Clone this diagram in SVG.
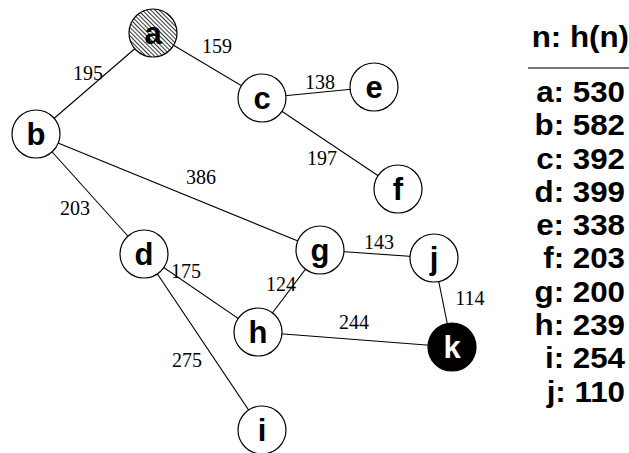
<svg xmlns="http://www.w3.org/2000/svg" width="629" height="453" viewBox="0 0 629 453">
<style>
.node circle{fill:#fff;stroke:#000;stroke-width:1.2}
.node text{font-family:"Liberation Sans",Arial,sans-serif;font-weight:bold;font-size:31px;text-anchor:middle;dominant-baseline:central;fill:#000}
#connectors line{stroke:#000;stroke-width:1.1}
.el{font-family:"Liberation Serif","Times New Roman",serif;font-size:20px;text-anchor:middle;dominant-baseline:central;fill:#000}
.tb{font-family:"Liberation Sans",Arial,sans-serif;font-weight:bold;font-size:29px;text-anchor:end;fill:#000}
</style>
<defs>
<pattern id="hatch" width="3" height="3" patternUnits="userSpaceOnUse" patternTransform="rotate(-45)">
<rect width="3" height="3" fill="#fff"/>
<line x1="0.5" y1="0" x2="0.5" y2="3" stroke="#000" stroke-width="0.8"/>
</pattern>
</defs>
<rect width="629" height="453" fill="#fff"/>
<g id="connectors">
<line x1="153" y1="33" x2="36" y2="134"/>
<line x1="153" y1="33" x2="262" y2="98"/>
<line x1="262" y1="98" x2="374" y2="87"/>
<line x1="262" y1="98" x2="398" y2="189"/>
<line x1="36" y1="134" x2="320" y2="250"/>
<line x1="36" y1="134" x2="144" y2="254"/>
<line x1="144" y1="254" x2="258" y2="332"/>
<line x1="144" y1="254" x2="262" y2="430"/>
<line x1="320" y1="250" x2="258" y2="332"/>
<line x1="320" y1="250" x2="434" y2="258"/>
<line x1="434" y1="258" x2="452" y2="347"/>
<line x1="258" y1="332" x2="452" y2="347"/>
<text class="el" x="217" y="46">159</text>
<text class="el" x="88" y="73">195</text>
<text class="el" x="320" y="82">138</text>
<text class="el" x="322" y="158">197</text>
<text class="el" x="201" y="177">386</text>
<text class="el" x="75" y="208">203</text>
<text class="el" x="379" y="242">143</text>
<text class="el" x="186" y="271">175</text>
<text class="el" x="281" y="284">124</text>
<text class="el" x="470" y="298">114</text>
<text class="el" x="354" y="322">244</text>
<text class="el" x="187" y="360">275</text>
</g>
<g id="node-a" class="node"><circle cx="153" cy="33" r="24" style="fill:url(#hatch)"/><text x="153" y="33">a</text></g>
<g id="node-b" class="node"><circle cx="36" cy="134" r="24"/><text x="36" y="134">b</text></g>
<g id="node-c" class="node"><circle cx="262" cy="98" r="24"/><text x="262" y="98">c</text></g>
<g id="node-e" class="node"><circle cx="374" cy="87" r="24"/><text x="374" y="87">e</text></g>
<g id="node-f" class="node"><circle cx="398" cy="189" r="24"/><text x="398" y="189">f</text></g>
<g id="node-d" class="node"><circle cx="144" cy="254" r="24"/><text x="144" y="254">d</text></g>
<g id="node-g" class="node"><circle cx="320" cy="250" r="24"/><text x="320" y="250">g</text></g>
<g id="node-j" class="node"><circle cx="434" cy="258" r="24"/><text x="434" y="258">j</text></g>
<g id="node-h" class="node"><circle cx="258" cy="332" r="24"/><text x="258" y="332">h</text></g>
<g id="node-k" class="node"><circle cx="452" cy="347" r="24" style="fill:#000"/><text x="452" y="347" style="fill:#fff">k</text></g>
<g id="node-i" class="node"><circle cx="262" cy="430" r="24"/><text x="262" y="430">i</text></g>
<g id="table">
<line x1="528" y1="68" x2="629" y2="68" stroke="#777" stroke-width="2"/>
<g transform="translate(629,0) scale(1.08,1)">
<text class="tb" x="0" y="47">n: h(n)</text>
</g>
<g transform="translate(625,0) scale(1.08,1)">
<text class="tb" x="0" y="102">a: 530</text>
<text class="tb" x="0" y="135.3">b: 582</text>
<text class="tb" x="0" y="168.6">c: 392</text>
<text class="tb" x="0" y="201.9">d: 399</text>
<text class="tb" x="0" y="235.2">e: 338</text>
<text class="tb" x="0" y="268.5">f: 203</text>
<text class="tb" x="0" y="301.8">g: 200</text>
<text class="tb" x="0" y="335.1">h: 239</text>
<text class="tb" x="0" y="368.4">i: 254</text>
<text class="tb" x="0" y="401.7">j: 110</text>
</g>
</g>
</svg>
